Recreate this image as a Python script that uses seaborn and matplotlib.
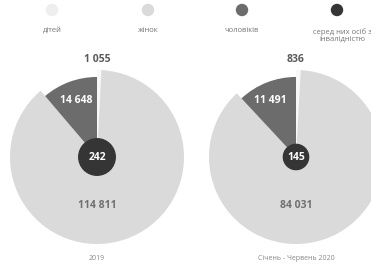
import matplotlib
matplotlib.use("Agg")
import matplotlib.pyplot as plt
import matplotlib.patches as mpatches
import pandas as pd
import seaborn as sns

# Data
periods = ['2019', 'Січень - Червень 2020']
children = [1055, 836]
women = [114811, 84031]
men = [14648, 11491]
disabled = [242, 145]
legend_labels = ['дітей', 'жінок', 'чоловіків', 'серед них осіб з\nінвалідністю']

def fmt(v):
    return f'{v:,}'.replace(',', ' ')

sns.set_theme(style='white')
plt.rcParams['font.family'] = ['Open Sans', 'DejaVu Sans']

colors = ['#eeeeee', '#dadada', '#6c6c6c', '#353535']
slice_colors = ['#f8f8f8', '#dadada', '#6c6c6c']

W, H = 371, 264
fig = plt.figure(figsize=(W / 100, H / 100), dpi=100)

# legend row (pixel coordinates)
leg = fig.add_axes([0, 0, 1, 1])
leg.set_xlim(0, W)
leg.set_ylim(H, 0)
leg.axis('off')
leg_df = pd.DataFrame({'x': [52, 148, 242, 337], 'y': [10, 10, 10, 10], 'label': legend_labels})
sns.scatterplot(data=leg_df, x='x', y='y', hue='label', palette=dict(zip(legend_labels, colors)),
                s=80, edgecolor='none', legend=False, ax=leg)
leg.set_xlabel('')
leg.set_ylabel('')
for x, lab in zip(leg_df['x'], legend_labels):
    multi = '\n' in lab
    leg.text(x + (5 if multi else 0), 28 if multi else 30, lab, ha='center',
             va='top' if multi else 'center', fontsize=5.5, color='#777777', linespacing=1.0)

# pies
centers = [97, 296]
circle_r = [0.21, 0.145]
men_dx = [-0.24, -0.29]
R = 87
for i in range(2):
    cx, cy = centers[i], 157
    ax = fig.add_axes([(cx - R) / W, (H - cy - R) / H, 2 * R / W, 2 * R / H])
    vals = [children[i], women[i], men[i]]
    wedges, _ = ax.pie(vals, colors=slice_colors, startangle=90, counterclock=False,
                       radius=1, wedgeprops=dict(linewidth=0))
    wedges[2].set_radius(0.92)
    ax.add_patch(mpatches.Circle((0, 0), circle_r[i], color=colors[3], zorder=5))
    ax.set_xlim(-1, 1)
    ax.set_ylim(-1, 1)
    ax.set_aspect('equal')
    ax.axis('off')
    ax.text(0, 1.12, fmt(children[i]), ha='center', va='center', fontsize=7.5,
            fontweight='bold', color='#5a5a5a', clip_on=False)
    ax.text(men_dx[i], 0.655, fmt(men[i]), ha='center', va='center', fontsize=7.5,
            fontweight='bold', color='white')
    ax.text(0, 0, fmt(disabled[i]), ha='center', va='center', fontsize=7.5,
            fontweight='bold', color='white', zorder=6)
    ax.text(0, -0.56, fmt(women[i]), ha='center', va='center', fontsize=7.5,
            fontweight='bold', color='#707070')
    ax.text(0, -1.17, periods[i], ha='center', va='center', fontsize=5,
            color='#888888', clip_on=False)

fig.savefig('out.png', dpi=100)
